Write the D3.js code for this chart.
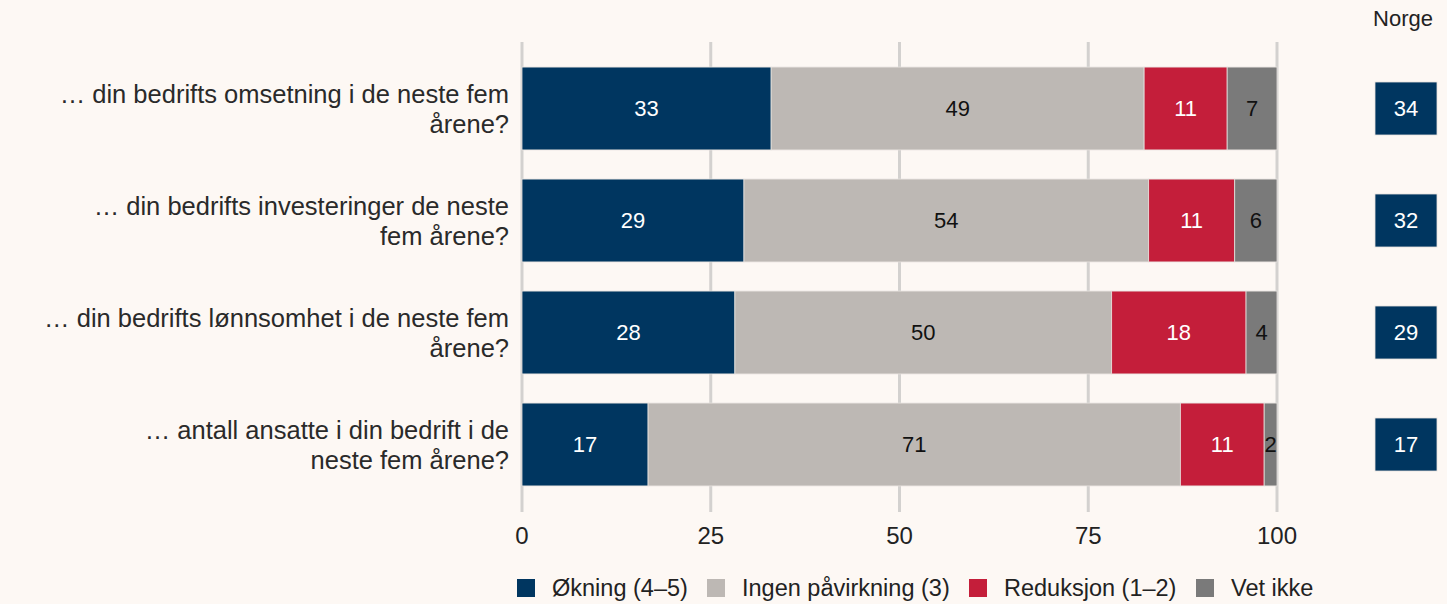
<!DOCTYPE html>
<html>
<head>
<meta charset="utf-8">
<script src="https://cdn.jsdelivr.net/npm/d3@7"></script>
<style>
  body { margin: 0; background: #fdf8f4; }
  svg { font-family: "Liberation Sans", Arial, sans-serif; }
</style>
</head>
<body>
<script>
var W = 1447, H = 604;

var questions = [
  ["… din bedrifts omsetning i de neste fem", "årene?"],
  ["… din bedrifts investeringer de neste", "fem årene?"],
  ["… din bedrifts lønnsomhet i de neste fem", "årene?"],
  ["… antall ansatte i din bedrift i de", "neste fem årene?"]
];
var seriesNames = ["Økning (4–5)", "Ingen påvirkning (3)", "Reduksjon (1–2)", "Vet ikke"];
var okning    = [33.0, 29.4, 28.2, 16.7];
var ingen     = [49.4, 53.6, 49.9, 70.5];
var reduksjon = [11.0, 11.4, 17.8, 11.1];
var vetikke   = [6.6, 5.6, 4.1, 1.7];
var labels = [
  [33, 49, 11, 7],
  [29, 54, 11, 6],
  [28, 50, 18, 4],
  [17, 71, 11, 2]
];
var norge = [34, 32, 29, 17];
var xTicks = [0, 25, 50, 75, 100];

var colors = ["#003660", "#bdb8b4", "#c41e3a", "#7a7a7a"];
var textColors = ["#ffffff", "#111111", "#ffffff", "#111111"];

var svg = d3.select("body").append("svg")
    .attr("width", W)
    .attr("height", H);

var x = d3.scaleLinear().domain([0, 100]).range([522, 1277]);
var y = d3.scaleBand().domain(d3.range(questions.length))
    .range([52.5, 500.5]).paddingInner(0.26).paddingOuter(0.13);

// gridlines
svg.append("g").selectAll("line")
  .data(xTicks)
  .enter().append("line")
    .attr("x1", function(d){ return x(d); })
    .attr("x2", function(d){ return x(d); })
    .attr("y1", 42)
    .attr("y2", 512)
    .attr("stroke", "#d3d1cf")
    .attr("stroke-width", 3);

// x tick labels
svg.append("g").selectAll("text")
  .data(xTicks)
  .enter().append("text")
    .attr("x", function(d){ return x(d); })
    .attr("y", 544)
    .attr("text-anchor", "middle")
    .attr("font-size", "24px")
    .attr("fill", "#222")
    .text(function(d){ return d; });

// stacked data
var rows = questions.map(function(q, i){
  var vals = [okning[i], ingen[i], reduksjon[i], vetikke[i]];
  var start = 0;
  return vals.map(function(v, k){
    var seg = {row: i, k: k, x0: start, x1: start + v, label: labels[i][k]};
    start += v;
    return seg;
  });
});
var segs = [].concat.apply([], rows);

svg.append("g").selectAll("rect")
  .data(segs)
  .enter().append("rect")
    .attr("x", function(d){ return x(d.x0); })
    .attr("width", function(d){ return x(d.x1) - x(d.x0); })
    .attr("y", function(d){ return y(d.row); })
    .attr("height", y.bandwidth())
    .attr("fill", function(d){ return colors[d.k]; })
    .attr("stroke", "#e6e2de")
    .attr("stroke-width", 0.8);

svg.append("g").selectAll("text")
  .data(segs)
  .enter().append("text")
    .attr("x", function(d){ return (x(d.x0) + x(d.x1)) / 2; })
    .attr("y", function(d){ return y(d.row) + y.bandwidth() / 2; })
    .attr("dy", "0.35em")
    .attr("text-anchor", "middle")
    .attr("font-size", "22px")
    .attr("fill", function(d){ return textColors[d.k]; })
    .text(function(d){ return d.label; });

// question labels
var ql = svg.append("g").selectAll("text")
  .data(questions)
  .enter().append("text")
    .attr("text-anchor", "end")
    .attr("font-size", "25.5px")
    .attr("fill", "#2a2a2a")
    .attr("y", function(d, i){ return y(i) + y.bandwidth() / 2 - 5.5; });
ql.selectAll("tspan")
  .data(function(d){ return d; })
  .enter().append("tspan")
    .attr("x", 509)
    .attr("dy", function(d, j){ return j == 0 ? 0 : 30; })
    .text(function(d){ return d; });

// Norge column
svg.append("text")
  .attr("x", 1403)
  .attr("y", 26)
  .attr("text-anchor", "middle")
  .attr("font-size", "22px")
  .attr("fill", "#222")
  .text("Norge");

svg.append("g").selectAll("rect")
  .data(norge)
  .enter().append("rect")
    .attr("x", 1375)
    .attr("width", 62)
    .attr("y", function(d, i){ return y(i) + y.bandwidth() / 2 - 26.5; })
    .attr("height", 53)
    .attr("fill", colors[0])
    .attr("stroke", "#e6e2de")
    .attr("stroke-width", 0.8);

svg.append("g").selectAll("text")
  .data(norge)
  .enter().append("text")
    .attr("x", 1406)
    .attr("y", function(d, i){ return y(i) + y.bandwidth() / 2; })
    .attr("dy", "0.35em")
    .attr("text-anchor", "middle")
    .attr("font-size", "22px")
    .attr("fill", "#fff")
    .text(function(d){ return d; });

// legend
var legX = [517, 707, 969, 1196];
var leg = svg.append("g").selectAll("g")
  .data(seriesNames)
  .enter().append("g")
    .attr("transform", function(d, i){ return "translate(" + legX[i] + ",588)"; });
leg.append("rect")
  .attr("x", 0).attr("y", -9)
  .attr("width", 18).attr("height", 18)
  .attr("fill", function(d, i){ return colors[i]; });
leg.append("text")
  .attr("x", 35)
  .attr("y", 8)
  .attr("font-size", "23.5px")
  .attr("fill", "#222")
  .text(function(d){ return d; });
</script>
</body>
</html>
